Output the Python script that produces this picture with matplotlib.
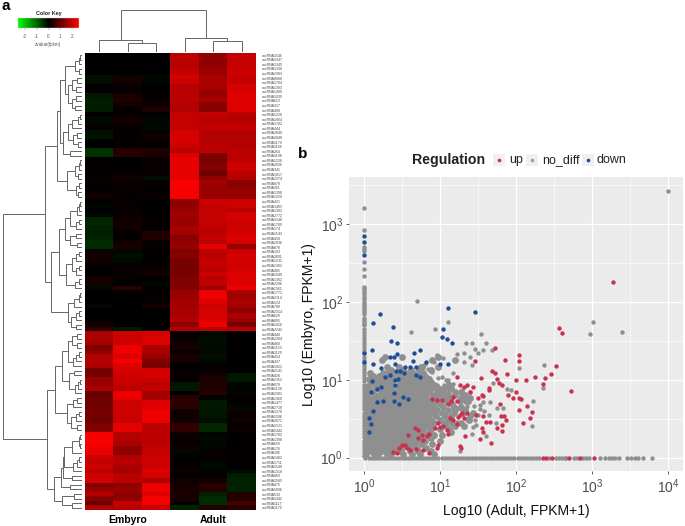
import numpy as np
import matplotlib
matplotlib.use("Agg")
import matplotlib.pyplot as plt
from matplotlib.colors import LinearSegmentedColormap
from matplotlib.patches import Rectangle

plt.rcParams["font.family"] = ["Liberation Sans", "DejaVu Sans"]
plt.rcParams["mathtext.default"] = "regular"

W, H = 685, 526

# ---------- heatmap values (z-score of fpkm) ----------
embryo_rows = [
    [0,0,0],[0,0,0],[0,0,0],[0,0,0],[0,0,0],[-.2,.2,-.1],[-.15,.25,-.05],[0,.1,0],[.1,.1,0],[-.3,.3,.05],
    [-.35,.35,.1],[-.35,.25,.15],[-.35,.05,.35],[0,.05,0],[-.1,.2,-.05],[-.1,.2,-.1],[.1,.1,-.1],[-.2,.05,.1],[-.25,.05,.15],[0,.05,.1],
    [0,.05,.05],[-.6,.45,.35],[-.6,.45,.35],[.05,0,.1],[.05,0,.1],[.05,0,.1],[.05,.1,.05],[.1,.2,-.15],[.05,.1,.1],[.05,.1,.05],
    [.05,.1,.05],[.25,.05,.1],[0,.05,0],[-.05,.1,0],[0,.1,0],[-.05,.1,0],[-.4,.2,.05],[-.45,.2,.1],[-.4,.2,0],[-.35,-.02,.4],
    [-.4,.05,.4],[-.5,.2,.1],[-.5,.3,.05],[.15,-.1,.05],[.2,-.2,.1],[.2,-.1,.05],[.1,.1,.05],[0,.1,.15],[0,.1,.2],[.25,.05,0],
    [.25,0,-.05],[-.1,.45,0],[0,.05,.05],[.02,0,.1],[.02,0,.05],[-.1,0,.25],[.02,0,0],[0,0,0],[0,0,0],[.25,0,0],
    [.5,-.3,.05],[2.0,2.4,2.5],[2.0,2.4,2.6],[1.9,2.4,2.6],[1.5,2.8,2.0],[1.7,2.8,2.0],[2.1,2.6,1.8],[2.1,2.9,1.5],[2.0,2.6,1.4],[1.4,2.5,2.5],
    [1.4,2.4,2.5],[1.8,2.4,2.4],[1.8,2.3,2.2],[2.0,2.2,2.3],[1.2,2.8,1.9],[1.3,2.7,1.9],[1.3,2.4,2.6],[1.3,2.4,2.6],[1.4,2.4,2.8],[1.4,2.4,2.8],
    [1.3,2.3,2.8],[1.5,2.7,2.2],[1.5,2.7,2.2],[2.9,2.1,2.2],[2.9,2.1,2.2],[2.9,2.0,2.2],[2.8,1.7,2.3],[2.7,1.7,2.3],[2.4,2.1,2.4],[2.3,2.2,2.4],
    [2.4,2.0,2.4],[2.2,1.9,2.6],[2.4,2.2,2.5],[2.5,2.2,2.0],[1.5,1.7,2.8],[1.8,1.8,2.8],[2.1,1.7,2.6],[1.6,1.7,2.9],[1.2,2.3,2.9],[2.1,2.2,2.4],
]
adult_rows = [
    [2.2,1.7,2.3],[2.2,1.7,2.3],[2.2,1.7,2.3],[2.2,1.8,2.3],[2.3,1.8,2.4],[2.5,2.0,2.3],[2.4,2.0,2.3],[2.1,2.0,2.5],[2.2,1.8,2.5],[2.2,1.8,2.6],
    [2.2,2.0,2.6],[2.1,1.6,2.6],[2.1,1.6,2.6],[2.3,2.3,2.2],[2.3,2.2,2.1],[2.3,2.2,2.2],[2.3,2.3,2.3],[2.5,2.1,2.1],[2.5,2.1,2.1],[2.5,2.1,2.1],
    [2.4,2.2,2.1],[2.2,2.2,2.2],[2.6,1.5,2.2],[2.7,1.4,2.2],[2.7,1.5,2.4],[2.7,1.5,2.4],[2.7,1.3,2.2],[2.7,1.7,2.1],[2.9,1.9,1.6],[2.9,1.8,1.7],
    [2.9,1.8,1.8],[2.9,1.8,1.8],[1.7,2.4,2.4],[1.7,2.3,2.4],[1.8,2.3,2.2],[1.9,2.3,2.5],[1.8,2.3,2.5],[1.8,2.3,2.4],[2.0,2.2,2.4],[1.9,2.2,2.5],
    [1.6,2.3,2.6],[1.7,2.2,2.5],[1.8,2.7,1.8],[1.5,2.2,2.4],[1.6,2.2,2.5],[1.4,2.3,2.5],[1.4,2.3,2.4],[1.4,2.2,2.5],[1.4,2.4,2.6],[1.5,2.2,2.6],
    [1.5,2.3,2.6],[1.5,1.8,2.8],[1.8,2.8,1.9],[1.8,2.8,1.9],[1.9,2.6,2.0],[1.9,2.4,1.9],[2.0,2.5,1.7],[2.0,2.5,2.0],[2.1,2.6,1.8],[1.7,2.8,1.4],
    [2.1,2.2,2.2],[.1,-.1,0],[.1,-.15,0],[.2,-.15,.02],[.25,-.1,.05],[.1,-.1,.02],[.3,-.2,0],[.3,-.1,0],[0,.05,0],[.05,.1,0],
    [.1,.25,-.3],[.05,.35,-.3],[-.3,.35,-.05],[-.3,.4,-.05],[0,.45,-.05],[.45,-.05,.05],[.5,-.3,.05],[.5,-.3,-.1],[.2,-.3,.15],[.2,-.25,.1],
    [.2,-.15,.15],[.6,-.45,.1],[.6,-.45,.15],[.15,-.05,.05],[.1,-.1,.05],[.1,-.1,0],[.2,-.05,0],[-.1,.1,.05],[0,.05,.05],[.05,-.05,0],
    [.05,-.1,-.02],[.15,-.05,-.1],[.05,.1,-.35],[.2,.2,-.4],[.25,.5,-.4],[.3,.4,-.4],[.3,-.4,.4],[.3,-.5,.4],[0,-.5,.8],[-.4,.4,.5],
]
row_ids = [
    1546,1347,1345,1330,2383,8888,1704,1393,1499,1039,623,317,408,1226,1804,1782,444,2849,2048,1170,
    1168,264,1108,1228,2036,341,1017,2274,879,261,1398,1220,421,1493,1381,2772,2148,1789,174,1543,
    418,2036,878,103,2691,1231,1302,485,1049,1302,2286,1361,1771,2114,124,789,2314,629,805,2416,
    2242,448,2284,460,1153,1129,424,437,1821,2141,428,2352,878,1138,2381,1360,1477,2718,1278,1596,
    2871,2121,2442,1782,1398,659,176,396,2482,1711,1548,1318,883,2585,475,1096,533,1442,1117,1170,
]
col_names = ["Embyro", "Adult"]
key_ticks = [-2, -1, 0, 1, 2]

# ---------- dendrograms: [height, left, right], 0 = leaf ----------
r00 = [7, [3, [2, 0, 0], 0], [3, 0, 0]]
r05 = [10, [5, 0, 0], [6, 0, 0]]
r09 = [10, [6, 0, 0], [7, 0, 0]]
r13 = [10, [4, [2, 0, 0], 0], 0]
r17 = [9, [5, 0, 0], [4, 0, 0]]
a1 = [22, [17, r00, [14, r05, r09]], [19, [14, r13, r17], [12, 0, 0]]]
a2 = [15, [7, [3, [2, 0, 0], 0], [4, 0, 0]], [6, [3, 0, 0], [4, 0, 0]]]
r32 = [12, [5, [3, [2, 0, 0], 0], 0], [6, [3, 0, 0], 0]]
r39 = [12, [6, 0, 0], [5, 0, 0]]
b1 = [23, [17, r32, r39], [16, [10, [6, [3, 0, 0], 0], [6, [3, 0, 0], 0]], [7, [3, 0, 0], 0]]]
b2 = [14, [8, [3, [2, 0, 0], 0], 0], [11, [6, [3, 0, 0], 0], [6, 0, 0]]]
top_cluster = [37, [25, a1, a2], [31, b1, b2]]
r61 = [14, [10, [5, 0, 0], [5, 0, 0]], [9, [6, [3, 0, 0], 0], 0]]
r69 = [13, [8, 0, 0], [7, [4, [2, 0, 0], 0], 0]]
r75 = [15, [9, [5, 0, 0], 0], [11, [6, [3, 0, 0], 0], [5, 0, 0]]]
r83 = [18, [10, [3, [2, 0, 0], [2, 0, 0]], 0], [9, [5, [3, 0, 0], 0], 0]]
c2 = [28, [21, [19, r83, [10, 0, 0]], [12, 0, 0]], [20, [8, 0, 0], [10, 0, 0]]]
bottom_cluster = [35, [27, [20, r61, r69], r75], c2]
row_tree = [79, top_cluster, bottom_cluster]
col_tree = [42, [12, 0, [9, 0, 0]], [14, 0, [11, 0, 0]]]

# ---------- scatter values as log10 (FPKM+1) ----------
up_x = [3.28,2.56,2.60,1.73,2.04,2.04,1.86,2.52,1.46,1.535,1.68,1.72,1.88,2.46,2.38,2.25,2.13,2.0,1.75,2.35,1.77,1.81,2.72,2.0,1.9,1.965,2.035,2.065,1.79,2.15,
        2.04,2.21,2.185,2.09,1.84,1.8,1.87,1.81,1.755,1.815,1.66,1.61,1.56,1.48,1.55,1.57,1.52,1.675,1.39,1.44,1.35,1.22,1.55,1.64,1.64,1.5,1.57,1.26,1.31,1.175,
        1.15,1.11,1.22,.956,.89,1.02,1.285,1.35,1.24,1.26,1.31,1.175,1.13,1.22,.98,1.0,1.04,.93,1.09,1.11,1.33,1.26,1.27,.98,.96,.86,.83,.76,.715,.78,
        .67,.715,.58,.54,.56,.5,.465,.385,.43,.78,.86,.605,.685,2.36,2.40,2.48,2.70,2.84,3.03]
up_y = [2.26,1.67,1.60,1.41,1.32,1.245,1.25,1.18,1.24,1.03,1.11,1.09,1.07,1.08,1.02,1.04,1.0,1.0,1.01,.95,.96,.935,.855,.84,.8,.765,.77,.75,.69,.665,
        .615,.59,.505,.45,.53,.535,.49,.42,.385,.345,.46,.46,.535,.55,.38,.335,.24,.19,.85,.915,.935,1.04,.81,.89,.87,.765,.795,.935,.915,.785,
        .73,.69,.73,.74,.75,.74,.57,.57,.52,.55,.505,.49,.515,.43,.45,.4,.41,.38,.356,.31,.28,.155,.13,.165,.12,.31,.28,.29,.25,.23,
        .385,.35,.29,.165,.13,.165,.12,.077,.056,.1,.064,.1,.107,0,0,0,0,0,0]
down_x = [0,0,0,0,0,.206,.114,.386,1.105,1.456,1.035,1.03,1.09,.35,.44,.10,1.16,.74,.66,.43,.39,.34,.12,.41,.64,.82,1.0,1.11,.54,.6,
          .69,.22,.47,.42,.53,.34,.28,.68,.74,.1,.41,.45,.41,.09,.175,.23,.39,.52,.58,.17,.25,.39,.465,.12,.06,.09,.07]
down_y = [2.85,2.77,2.61,1.34,1.23,1.85,1.73,1.68,1.93,1.87,1.66,1.55,1.53,1.50,1.47,1.39,1.48,1.39,1.34,1.33,1.29,1.29,1.2,1.21,1.24,1.23,1.21,1.21,1.16,1.16,
          1.16,1.15,1.12,1.11,1.09,1.06,1.04,1.06,1.04,.98,1.0,1.01,.94,.85,.88,.905,.83,.785,.76,.72,.73,.73,.69,.605,.505,.43,.335]
gray_sparse_x = [.70,1.10,.62,.93,1.535,3.01,2.97,3.40,4.0,1.34,1.425,1.61,1.31,1.46,1.56,1.5,1.68,1.22,1.4,1.31,1.04,.956,.92,2.37,2.04,1.42,2.36,2.23,2.21,1.88,
                 1.94,1.7,1.66,1.57,1.83,1.75,1.74,1.5,1.44,1.46,1.26,1.175,1.08,1.17,1.29,1.45,1.53,1.36,1.42,1.24,1.12,1.05,.98,1.3,1.38,1.47,1.6,1.64,1.35,1.19,
                 1.02,1.14,1.2,1.32,1.1,1.16,1.26,1.34,1.4,1.06,1.0,.94,1.08,1.14,1.22,1.28,1.36,1.52,1.58,.86,.9,.78,.84,.72,.96,1.02,1.1,.66,.74,.8]
gray_sparse_y = [2.01,1.74,1.61,1.65,1.59,1.74,1.595,1.61,3.43,1.48,1.48,1.47,1.35,1.395,1.385,1.34,1.38,1.335,1.3,1.235,1.28,1.32,1.235,1.19,1.15,1.19,.89,.73,.41,.88,
                 .87,.965,.72,.72,.635,.635,.45,.55,.4,.485,.09,1.086,1.0,.95,.87,.66,.62,.48,.3,.64,.85,.93,1.02,.78,.72,.42,.28,.55,.66,.6,
                 .9,.88,.82,.8,.96,.76,.7,.62,.84,.78,.86,.8,.58,.52,.46,.62,.5,.68,.6,1.02,1.1,1.06,1.14,1.12,.94,1.04,1.0,1.08,1.18,1.2]
# points sitting on the FPKM+1 = 1 edges
gray_left_y = [3.215,2.93,2.71,2.68,2.66,2.52,2.43,2.34,2.2,2.18,2.16,2.13,2.1,2.07,2.04,2.0,1.97,1.95,1.92,1.9,1.87,1.85,1.8,1.77,1.75,1.72,1.7,1.66,1.62,1.58,
               1.54,1.5,1.46,1.42,1.38,1.34,1.3,1.26,1.22,1.18,1.14,1.1,1.06,1.02,.98,.94,.9,.86,.82,.78,.74,.7,.66,.62,.58,.54,.5,.46,.42,.38,
               .34,.3,.26,.22,.18,.14,.1,.06,.02]
gray_bottom_x = [.02,.06,.1,.14,.18,.22,.26,.3,.34,.38,.42,.46,.5,.54,.58,.62,.66,.7,.74,.78,.82,.86,.9,.94,.98,1.02,1.06,1.1,1.14,1.18,
                 1.22,1.26,1.3,1.34,1.38,1.42,1.46,1.5,1.54,1.58,1.62,1.66,1.7,1.74,1.78,1.82,1.86,1.9,1.94,1.98,2.02,2.06,2.1,2.14,2.18,2.22,2.26,2.3,2.44,2.52,
                 2.56,2.6,2.64,2.66,2.76,2.8,2.88,2.92,2.96,3.1,3.17,3.23,3.26,3.3,3.36,3.46,3.51,3.57,3.61,3.67,3.785]
# the solid cloud near the origin, row by row: log10(Embryo) -> log10(Adult) values
cloud_rows = {
    .05: [.03,.13,.18,.3,.35,.52,.63,.74,.92],
    .09: [.04,.09,.2,.24,.3,.42,.48,.6,.71,.88],
    .13: [.03,.08,.13,.18,.23,.28,.33,.38,.44,.5,.62,.7,.82],
    .17: [.05,.1,.15,.2,.25,.3,.35,.4,.45,.52,.58,.66,.76,.9],
    .21: [.04,.09,.14,.19,.24,.29,.34,.39,.44,.49,.54,.59,.65,.71,.8,1.0],
    .25: [.03,.08,.13,.18,.23,.28,.33,.38,.43,.48,.53,.58,.63,.68,.74,.88],
    .29: [.05,.1,.15,.2,.25,.3,.35,.4,.45,.5,.55,.6,.65,.7,.8,.92,1.03],
    .33: [.03,.08,.13,.18,.23,.28,.33,.38,.43,.48,.53,.58,.63,.68,.73,.85,1.15],
    .37: [.05,.1,.15,.2,.25,.3,.35,.4,.45,.5,.55,.6,.65,.7,.77,.88,1.0,1.12],
    .41: [.03,.08,.13,.18,.23,.28,.33,.38,.43,.48,.53,.58,.63,.68,.73,.82,.9,1.08,1.2,1.32],
    .45: [.05,.1,.15,.2,.25,.3,.35,.4,.45,.5,.55,.6,.65,.7,.76,.84,.92,1.05,1.16,1.28],
    .49: [.03,.09,.14,.19,.24,.29,.34,.39,.44,.49,.54,.59,.64,.69,.74,.8,.88,1.0,1.1,1.38],
    .53: [.04,.1,.15,.2,.25,.3,.35,.4,.45,.5,.55,.6,.65,.7,.75,.84,.95,1.06,1.14,1.4],
    .57: [.03,.11,.14,.19,.24,.29,.34,.39,.44,.49,.54,.59,.64,.69,.74,.8,.9,1.02,1.18,1.3,1.43],
    .61: [.05,.15,.2,.25,.3,.35,.4,.45,.5,.55,.6,.65,.7,.75,.86,.96,1.1,1.2,1.33],
    .65: [.04,.1,.16,.21,.26,.31,.36,.41,.46,.51,.56,.61,.66,.71,.78,.84,.92,1.04,1.18,1.27],
    .69: [.05,.13,.19,.23,.28,.33,.38,.43,.5,.55,.6,.65,.7,.76,.82,.9,1.0,1.16],
    .73: [.04,.1,.15,.21,.3,.35,.43,.47,.52,.58,.63,.68,.74,.78,.86,.95,1.08,1.26,1.34],
    .77: [.06,.12,.19,.24,.29,.34,.44,.49,.55,.61,.66,.72,.8,.9,.97,1.07,1.12,1.27,1.4],
    .81: [.04,.14,.21,.26,.31,.36,.43,.47,.55,.6,.65,.7,.76,.82,.92,1.02,1.1,1.2,1.33],
    .85: [.06,.12,.22,.28,.33,.44,.5,.57,.62,.68,.73,.8,.86,.96,1.04,1.2,1.28],
    .89: [.05,.15,.26,.32,.37,.46,.52,.58,.64,.69,.74,.82,.9,.98,1.08,1.14],
    .93: [.07,.17,.25,.3,.36,.47,.52,.56,.62,.67,.72,.78,.84,.92,1.12],
    .97: [.1,.14,.22,.28,.35,.48,.54,.6,.66,.72,.78,.83,.88],
    1.01: [.06,.16,.24,.31,.38,.5,.56,.63,.7,.77,.85],
    1.05: [.12,.2,.26,.37,.46,.52,.6,.65,.72,.8],
    1.09: [.08,.25,.3,.36,.45,.58,.64,.78],
    1.13: [.35,.52,.62,.72,.88],
    1.17: [.3,.46,.76,.98],
    1.25: [.24,.9,1.2],
    1.3: [.28,.5,.98],
}

# ---------- figure ----------
fig = plt.figure(figsize=(W / 100, H / 100), dpi=100)


def px_axes(x0, y0, x1, y1):
    return fig.add_axes([x0 / W, 1 - y1 / H, (x1 - x0) / W, (y1 - y0) / H])


def walk_tree(node, leaves, segs):
    # returns (leaf position, height) and appends the three segments of each merge
    if node == 0:
        return next(leaves), 0
    p1, h1 = walk_tree(node[1], leaves, segs)
    p2, h2 = walk_tree(node[2], leaves, segs)
    segs.append(((p1, p1, p2, p2), (h1, node[0], node[0], h2)))
    return (p1 + p2) / 2, node[0]


heat = np.hstack([np.array(embryo_rows), np.array(adult_rows)])
n_rows, n_cols = heat.shape
cmap = LinearSegmentedColormap.from_list("gbr", ["#00ff00", "#000000", "#ff0000"])

# heatmap
ax = px_axes(85, 53, 256, 510)
ax.imshow(heat, cmap=cmap, vmin=-3.0, vmax=3.0, aspect="auto", interpolation="nearest")
ax.set_xticks([1, 4])
ax.set_xticklabels(col_names, fontsize=7.5, fontweight="bold")
ax.tick_params(axis="x", length=0, pad=3.5)
ax.set_yticks(range(n_rows))
ax.set_yticklabels([f"oncRNA{i}" for i in row_ids], fontsize=2.5, color="#444444")
ax.yaxis.tick_right()
ax.tick_params(axis="y", length=0, pad=4.5)
for s in ax.spines.values():
    s.set_visible(False)

# row dendrogram
ax_r = px_axes(3, 53, 82, 510)
segs = []
walk_tree(row_tree, iter(range(n_rows)), segs)
for pos, hgt in segs:
    ax_r.plot(hgt, pos, color="#666666", lw=0.7, solid_joinstyle="miter")
ax_r.set_xlim(79, 0)
ax_r.set_ylim(n_rows - 0.5, -0.5)
ax_r.axis("off")

# column dendrogram
ax_c = px_axes(85, 10, 256, 52)
segs = []
walk_tree(col_tree, iter(range(n_cols)), segs)
for pos, hgt in segs:
    ax_c.plot(pos, hgt, color="#666666", lw=0.7, solid_joinstyle="miter")
ax_c.set_xlim(-0.5, n_cols - 0.5)
ax_c.set_ylim(0, 42)
ax_c.axis("off")

# colour key
ax_k = px_axes(18, 18, 79, 28)
ax_k.imshow(np.linspace(-2.6, 2.6, 128).reshape(1, -1), cmap=cmap, vmin=-2.6, vmax=2.6,
            aspect="auto", extent=[-2.6, 2.6, 0, 1])
ax_k.set_yticks([])
ax_k.set_xticks(key_ticks)
ax_k.set_xticklabels([str(t) for t in key_ticks], fontsize=3.3, color="#555555")
ax_k.tick_params(axis="x", length=1.5, width=0.3, pad=2.5, color="#666666")
ax_k.set_xlabel("zvalue(fpkm)", fontsize=3.3, color="#555555", labelpad=2.5)
ax_k.set_title("Color Key", fontsize=3.9, fontweight="bold", pad=2.5, color="#222222")
for s in ax_k.spines.values():
    s.set_linewidth(0.3)
    s.set_color("#cccccc")

# scatter
ax_s = px_axes(349.3, 177.3, 683, 471)
ax_s.set_facecolor("#ebebeb")
ax_s.set_xscale("log")
ax_s.set_yscale("log")
cloud_x = np.array([v for y, xs in cloud_rows.items() for v in xs])
cloud_y = np.array([y for y, xs in cloud_rows.items() for v in xs])
gray_x = np.array(gray_sparse_x + [0] * len(gray_left_y) + gray_bottom_x)
gray_y = np.array(gray_sparse_y + gray_left_y + [0] * len(gray_bottom_x))
dot = dict(s=10, linewidths=0, clip_on=False)
ax_s.scatter(10 ** gray_x, 10 ** gray_y, color="#8f8f8f", zorder=3, **dot)
ax_s.scatter(10 ** cloud_x, 10 ** cloud_y, color="#8f8f8f", zorder=3, s=24, linewidths=0)
ax_s.scatter(10 ** np.array(up_x), 10 ** np.array(up_y), color="#c8324f", zorder=4, **dot)
ax_s.scatter(10 ** np.array(down_x), 10 ** np.array(down_y), color="#1f4e98", zorder=4, **dot)
ax_s.set_xlim(10 ** -0.193, 10 ** 4.197)
ax_s.set_ylim(10 ** -0.171, 10 ** 3.604)
ax_s.set_xticks([1, 10, 100, 1000, 10000])
ax_s.set_yticks([1, 10, 100, 1000])
ax_s.set_xticks([3.162, 31.62, 316.2, 3162], minor=True)
ax_s.set_yticks([3.162, 31.62, 316.2, 3162], minor=True)
ax_s.set_xticklabels([], minor=True)
ax_s.set_yticklabels([], minor=True)
ax_s.grid(True, which="major", color="white", lw=0.9, zorder=1)
ax_s.grid(True, which="minor", color="white", lw=0.45, zorder=1)
ax_s.set_axisbelow(True)
ax_s.tick_params(which="minor", length=0)
ax_s.tick_params(which="major", length=2.5, width=0.6, color="#444444", labelcolor="#4d4d4d",
                 labelsize=10, pad=2)
for s in ax_s.spines.values():
    s.set_visible(False)
ax_s.set_xlabel("Log10 (Adult, FPKM+1)", fontsize=10.1, color="#111111", labelpad=6)
ax_s.set_ylabel("Log10 (Embyro, FPKM+1)", fontsize=10.1, color="#111111", labelpad=3)

# overlay for legend and panel letters, in picture pixels
ov = fig.add_axes([0, 0, 1, 1], facecolor="none")
ov.set_xlim(0, W)
ov.set_ylim(H, 0)
ov.axis("off")
ov.text(1, 6, "a", fontsize=11, fontweight="bold", va="center")
ov.text(298, 154, "b", fontsize=11, fontweight="bold", va="center")
ov.text(412.5, 160, "Regulation", fontsize=10.2, fontweight="bold", va="center", color="#222222")
legend_items = [("up", "#c8324f", 493, 509), ("no_diff", "#a3a3a3", 526, 542), ("down", "#1f4e98", 582, 597)]
for name, colour, key_x, text_x in legend_items:
    ov.add_patch(Rectangle((key_x, 154), 12, 12, color="#f0f0f0", lw=0))
    ov.scatter([key_x + 6], [160], s=7, color=colour, linewidths=0)
    ov.text(text_x, 160, name, fontsize=9, va="center", color="#222222")

fig.savefig("out.png", dpi=100)
